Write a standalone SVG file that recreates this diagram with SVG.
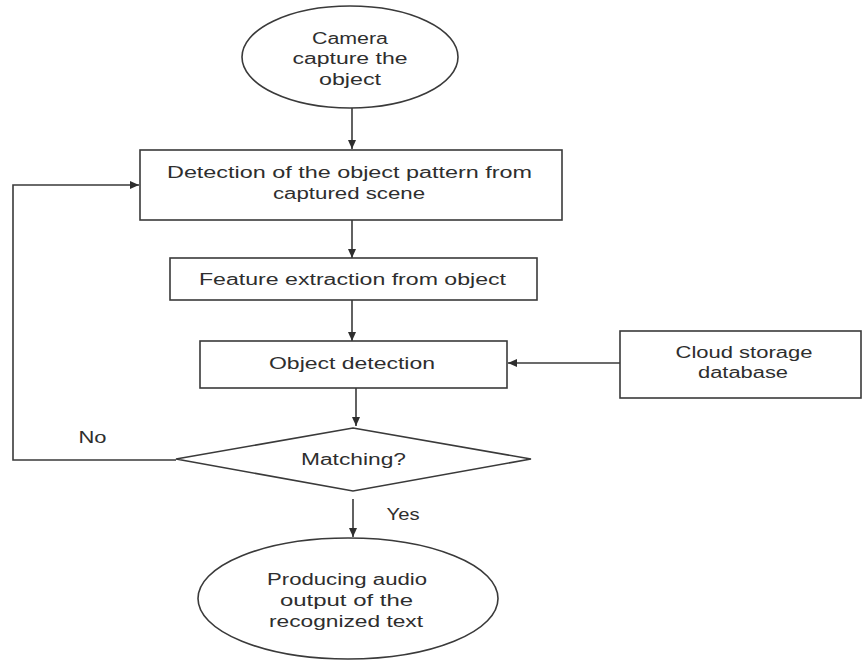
<svg xmlns="http://www.w3.org/2000/svg" width="863" height="661" viewBox="0 0 863 661">
<defs>
<style>
.shape{fill:#ffffff;stroke:#3a3a3a;stroke-width:1.6}
.conn{fill:none;stroke:#3a3a3a;stroke-width:1.6}
.t{font-family:"Liberation Sans",Arial,sans-serif;font-size:16px;fill:#2e2e2e;text-anchor:middle}
</style>
<marker id="arr" markerWidth="10" markerHeight="10" refX="9" refY="5" orient="auto" markerUnits="userSpaceOnUse">
<path d="M0,1 L9,5 L0,9 Z" fill="#2e2e2e"/>
</marker>
</defs>
<rect width="863" height="661" fill="#ffffff"/>
<g id="connectors">
<line class="conn" x1="352" y1="108" x2="352" y2="149" marker-end="url(#arr)"/>
<line class="conn" x1="352" y1="220" x2="352" y2="258" marker-end="url(#arr)"/>
<line class="conn" x1="352" y1="300" x2="352" y2="341" marker-end="url(#arr)"/>
<line class="conn" x1="620" y1="363" x2="508" y2="363" marker-end="url(#arr)"/>
<line class="conn" x1="356" y1="388" x2="356" y2="426" marker-end="url(#arr)"/>
<line class="conn" x1="353" y1="499" x2="353" y2="537" marker-end="url(#arr)"/>
<polyline class="conn" points="176,460 13,460 13,185 139,185" marker-end="url(#arr)"/>
<text class="t" x="92.5" y="442.5" textLength="28" lengthAdjust="spacingAndGlyphs">No</text>
<text class="t" x="403" y="519.5" textLength="33" lengthAdjust="spacingAndGlyphs">Yes</text>
</g>
<g id="start">
<ellipse class="shape" cx="350" cy="57" rx="108" ry="51"/>
<text class="t" x="350" y="43.5" textLength="76" lengthAdjust="spacingAndGlyphs">Camera</text>
<text class="t" x="350" y="64" textLength="115" lengthAdjust="spacingAndGlyphs">capture the</text>
<text class="t" x="350" y="84.5" textLength="62" lengthAdjust="spacingAndGlyphs">object</text>
</g>
<g id="detect-pattern">
<rect class="shape" x="140" y="150" width="422" height="70"/>
<text class="t" x="349.5" y="177.5" textLength="365" lengthAdjust="spacingAndGlyphs">Detection of the object pattern from</text>
<text class="t" x="349" y="198.5" textLength="152" lengthAdjust="spacingAndGlyphs">captured scene</text>
</g>
<g id="feature">
<rect class="shape" x="170" y="258" width="367" height="42"/>
<text class="t" x="352.5" y="284.5" textLength="307" lengthAdjust="spacingAndGlyphs">Feature extraction from object</text>
</g>
<g id="object-detection">
<rect class="shape" x="200" y="341" width="307" height="47"/>
<text class="t" x="352" y="368.5" textLength="166" lengthAdjust="spacingAndGlyphs">Object detection</text>
</g>
<g id="cloud">
<rect class="shape" x="620" y="331" width="241" height="67"/>
<text class="t" x="744" y="358" textLength="137" lengthAdjust="spacingAndGlyphs">Cloud storage</text>
<text class="t" x="743" y="378" textLength="90" lengthAdjust="spacingAndGlyphs">database</text>
</g>
<g id="matching">
<polygon class="shape" points="353,428 531,459 353,491 176,459"/>
<text class="t" x="353.5" y="464.5" textLength="105" lengthAdjust="spacingAndGlyphs">Matching?</text>
</g>
<g id="output">
<ellipse class="shape" cx="348" cy="598.5" rx="150" ry="60.5"/>
<text class="t" x="347" y="584.5" textLength="160" lengthAdjust="spacingAndGlyphs">Producing audio</text>
<text class="t" x="346.5" y="605.5" textLength="133" lengthAdjust="spacingAndGlyphs">output of the</text>
<text class="t" x="346" y="626.5" textLength="154" lengthAdjust="spacingAndGlyphs">recognized text</text>
</g>
</svg>
